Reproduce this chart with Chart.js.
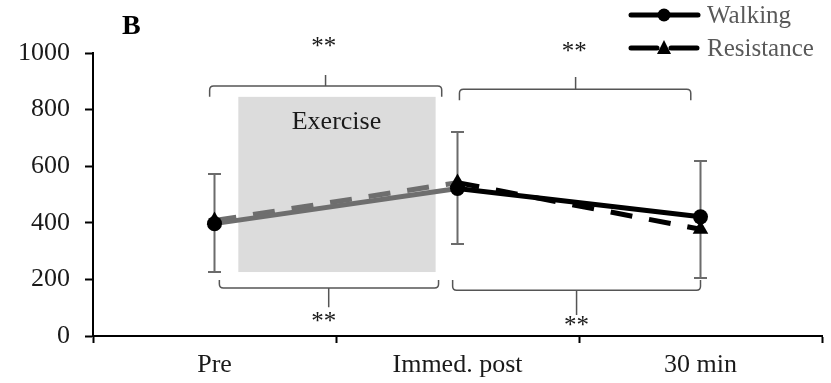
<!DOCTYPE html>
<html><head><meta charset="utf-8">
<script src="https://cdn.jsdelivr.net/npm/chart.js@4"></script>
<style>html,body{margin:0;padding:0;background:#fff}#wrap{width:831px;height:383px}</style>
</head><body><div id="wrap"><canvas id="c" width="831" height="383"></canvas></div>
<script>
// ---- data ----
const categories = ['Pre', 'Immed. post', '30 min'];
const walking = [397, 521, 421];
const resistance = [408, 542, 377];
const errUpper = [572, 721, 618];
const errLower = [226, 325, 205];
const yTicks = [0, 200, 400, 600, 800, 1000];
const seriesNames = ['Walking', 'Resistance'];
const panelLabel = 'B';
const boxLabel = 'Exercise';
const sigLabel = '**';

// ---- annotation layout (data coordinates: x = category index, y = value) ----
const exerciseBox = { x0: 0.098, x1: 0.91, y0: 226, y1: 845, lx: 0.502, ly: 756 };
const brackets = [
  { x0: -0.02, x1: 0.935, xm: 0.457, y: 883, end: 845, notch: 922, sx: 0.45, sy: 1019 },
  { x0: 1.008, x1: 1.96, xm: 1.486, y: 872, end: 833, notch: 915, sx: 1.48, sy: 1001 },
  { x0: 0.02, x1: 0.922, xm: 0.47, y: 170, end: 198, notch: 102, sx: 0.45, sy: 47 },
  { x0: 0.98, x1: 2.0, xm: 1.49, y: 162, end: 198, notch: 74, sx: 1.49, sy: 33 }
];

const FONT = "'Liberation Serif', 'Times New Roman', serif";
const GRAY_SEG = '#6e6e6e';

const overlay = {
  id: 'overlay',
  beforeDatasetsDraw(chart) {
    const { ctx, scales: { x, y } } = chart;
    ctx.save();
    const bx0 = x.getPixelForValue(exerciseBox.x0), bx1 = x.getPixelForValue(exerciseBox.x1);
    const by0 = y.getPixelForValue(exerciseBox.y1), by1 = y.getPixelForValue(exerciseBox.y0);
    ctx.fillStyle = '#dcdcdc';
    ctx.fillRect(bx0, by0, bx1 - bx0, by1 - by0);
    ctx.strokeStyle = '#6b6b6b';
    ctx.lineWidth = 2;
    for (let i = 0; i < categories.length; i++) {
      const px = x.getPixelForValue(i);
      const pt = y.getPixelForValue(errUpper[i]), pb = y.getPixelForValue(errLower[i]);
      ctx.beginPath();
      ctx.moveTo(px, pt); ctx.lineTo(px, pb);
      ctx.moveTo(px - 6.5, pt); ctx.lineTo(px + 6.5, pt);
      ctx.moveTo(px - 6.5, pb); ctx.lineTo(px + 6.5, pb);
      ctx.stroke();
    }
    ctx.restore();
  },
  afterDraw(chart) {
    const { ctx, scales: { x, y } } = chart;
    ctx.save();
    ctx.fillStyle = '#1a1a1a';
    ctx.font = '26px ' + FONT;
    ctx.textAlign = 'center'; ctx.textBaseline = 'middle';
    ctx.fillText(boxLabel, x.getPixelForValue(exerciseBox.lx), y.getPixelForValue(exerciseBox.ly));
    ctx.strokeStyle = '#555';
    ctx.lineWidth = 1.5;
    brackets.forEach(b => {
      const X0 = x.getPixelForValue(b.x0), X1 = x.getPixelForValue(b.x1), XM = x.getPixelForValue(b.xm);
      const Y = y.getPixelForValue(b.y), YE = y.getPixelForValue(b.end), YN = y.getPixelForValue(b.notch);
      const s = Math.sign(YE - Y), r = 4;
      ctx.beginPath();
      ctx.moveTo(X0, YE);
      ctx.lineTo(X0, Y + s * r);
      ctx.quadraticCurveTo(X0, Y, X0 + r, Y);
      ctx.lineTo(X1 - r, Y);
      ctx.quadraticCurveTo(X1, Y, X1, Y + s * r);
      ctx.lineTo(X1, YE);
      ctx.moveTo(XM, Y); ctx.lineTo(XM, YN);
      ctx.stroke();
      ctx.fillStyle = '#1a1a1a';
      ctx.font = '25px ' + FONT;
      ctx.fillText(sigLabel, x.getPixelForValue(b.sx), y.getPixelForValue(b.sy));
    });
    ctx.font = 'bold 28px ' + FONT;
    ctx.fillStyle = '#000';
    ctx.textAlign = 'left';
    ctx.fillText(panelLabel, 122, 27);
    const ly = [15, 48];
    chart.data.datasets.forEach((ds, i) => {
      ctx.strokeStyle = '#000';
      ctx.lineWidth = 5;
      ctx.setLineDash(i === 1 ? [26, 14] : []);
      ctx.lineCap = 'round';
      ctx.beginPath(); ctx.moveTo(631, ly[i]); ctx.lineTo(698, ly[i]); ctx.stroke();
      ctx.setLineDash([]);
      ctx.fillStyle = '#000';
      ctx.beginPath();
      if (i === 0) {
        ctx.arc(664, ly[i], 6.5, 0, Math.PI * 2);
      } else {
        ctx.moveTo(664, ly[i] - 8); ctx.lineTo(671, ly[i] + 6); ctx.lineTo(657, ly[i] + 6); ctx.closePath();
      }
      ctx.fill();
      ctx.fillStyle = '#595959';
      ctx.font = '25px ' + FONT;
      ctx.textAlign = 'left';
      ctx.fillText(ds.label, 707, ly[i] + 1);
    });
    ctx.restore();
  }
};

new Chart(document.getElementById('c'), {
  type: 'line',
  data: {
    labels: categories,
    datasets: [
      {
        label: seriesNames[0], data: walking,
        borderColor: '#000', backgroundColor: '#000', borderWidth: 5,
        pointStyle: 'circle', pointRadius: 7.5, pointBorderWidth: 0,
        tension: 0, order: 1,
        segment: { borderColor: c => c.p0DataIndex === 0 ? GRAY_SEG : undefined }
      },
      {
        label: seriesNames[1], data: resistance,
        borderColor: '#000', backgroundColor: '#000', borderWidth: 5,
        borderDash: [22, 17],
        pointStyle: 'triangle', pointRadius: 9, pointBorderWidth: 0,
        tension: 0, order: 2,
        segment: { borderColor: c => c.p0DataIndex === 0 ? GRAY_SEG : undefined }
      }
    ]
  },
  options: {
    responsive: false, animation: false,
    layout: { padding: { top: 53, right: 4, left: 0, bottom: 0 } },
    plugins: { legend: { display: false }, tooltip: { enabled: false } },
    scales: {
      x: {
        type: 'category', offset: true,
        grid: { offset: true, drawOnChartArea: false, drawTicks: true, tickLength: 7, tickWidth: 2, tickColor: '#000' },
        border: { color: '#000', width: 2 },
        ticks: { color: '#1a1a1a', font: { family: FONT, size: 26 }, padding: 7, maxRotation: 0 },
        afterFit: s => { s.height = 47; }
      },
      y: {
        min: 0, max: 1000,
        afterBuildTicks: s => { s.ticks = yTicks.map(v => ({ value: v })); },
        grid: { drawOnChartArea: false, drawTicks: true, tickLength: 8, tickWidth: 2, tickColor: '#000' },
        border: { color: '#000', width: 2 },
        ticks: { color: '#1a1a1a', font: { family: FONT, size: 26 }, padding: 15, callback: v => String(v) },
        afterFit: s => { s.width = 93; }
      }
    }
  },
  plugins: [overlay]
});
</script>
</body></html>
